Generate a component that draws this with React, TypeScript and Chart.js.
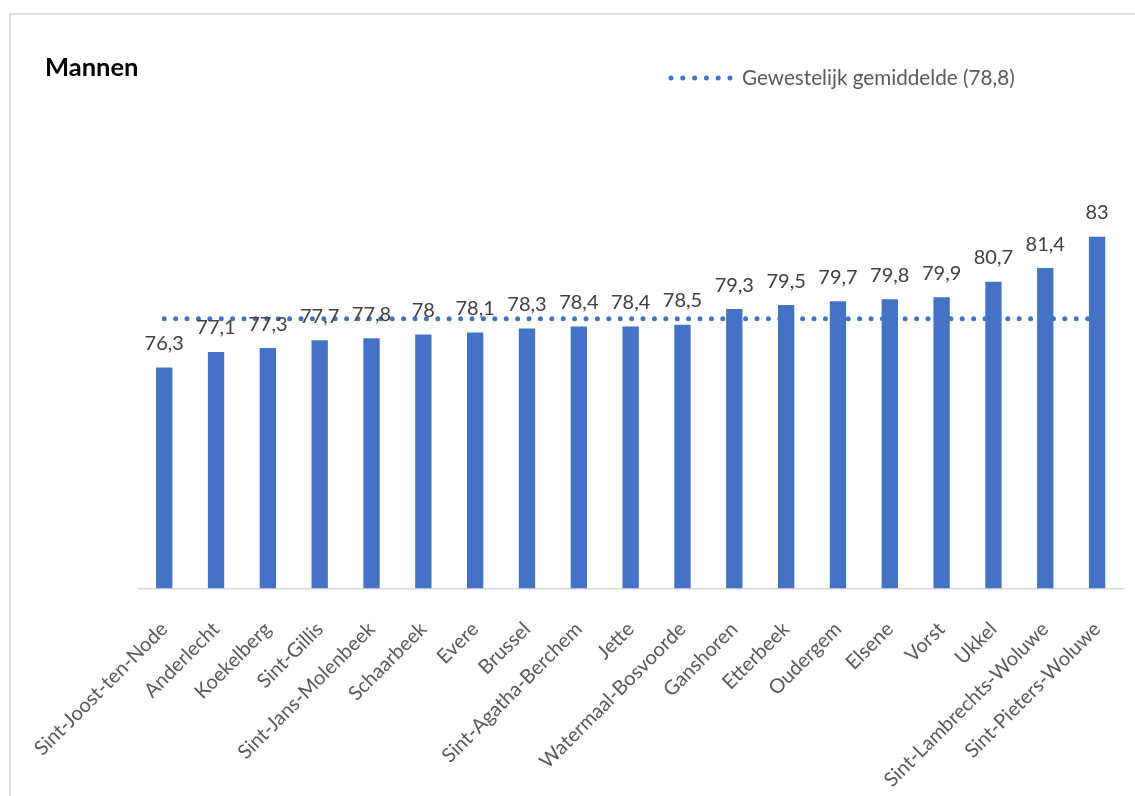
import React, { useEffect, useRef } from 'react';
import { Chart, registerables } from 'chart.js';

Chart.register(...registerables);

// Life expectancy (men) per Brussels municipality
const categories = [
  'Sint-Joost-ten-Node',
  'Anderlecht',
  'Koekelberg',
  'Sint-Gillis',
  'Sint-Jans-Molenbeek',
  'Schaarbeek',
  'Evere',
  'Brussel',
  'Sint-Agatha-Berchem',
  'Jette',
  'Watermaal-Bosvoorde',
  'Ganshoren',
  'Etterbeek',
  'Oudergem',
  'Elsene',
  'Vorst',
  'Ukkel',
  'Sint-Lambrechts-Woluwe',
  'Sint-Pieters-Woluwe',
];
const lifeExpectancy = [
  76.3, 77.1, 77.3, 77.7, 77.8, 78, 78.1, 78.3, 78.4, 78.4, 78.5, 79.3, 79.5, 79.7, 79.8, 79.9,
  80.7, 81.4, 83,
];
const regionalAverage = 78.8;
const averageLabel = 'Gewestelijk gemiddelde (78,8)';
const chartTitle = 'Mannen';

const BLUE = '#4472C4';
const FONT = 'Lato, "Open Sans", sans-serif';

const formatValue = (v: number) => String(v).replace('.', ',');

// Draws the value labels above the bars, the title and the legend entry.
const decorations = {
  id: 'decorations',
  afterDatasetsDraw(chart: any) {
    const ctx: CanvasRenderingContext2D = chart.ctx;
    const meta = chart.getDatasetMeta(1);
    ctx.save();

    ctx.font = `20px ${FONT}`;
    ctx.fillStyle = '#404040';
    ctx.textAlign = 'center';
    ctx.textBaseline = 'alphabetic';
    meta.data.forEach((bar: any, i: number) => {
      ctx.fillText(formatValue(lifeExpectancy[i]), bar.x, bar.y - 17.5);
    });

    ctx.font = `bold 25.5px ${FONT}`;
    ctx.fillStyle = '#000000';
    ctx.textAlign = 'left';
    ctx.fillText(chartTitle, 45, 76);

    ctx.strokeStyle = BLUE;
    ctx.lineWidth = 5;
    ctx.lineCap = 'round';
    ctx.setLineDash([0, 11.8]);
    ctx.beginPath();
    ctx.moveTo(671, 78);
    ctx.lineTo(731, 78);
    ctx.stroke();
    ctx.setLineDash([]);

    ctx.font = `20.7px ${FONT}`;
    ctx.fillStyle = '#595959';
    ctx.fillText(averageLabel, 742, 84.5);

    ctx.restore();
  },
};

export default function App() {
  const canvasRef = useRef<HTMLCanvasElement | null>(null);

  useEffect(() => {
    const canvas = canvasRef.current;
    if (!canvas) return;
    const chart = new Chart(canvas, {
      type: 'bar',
      data: {
        labels: categories,
        datasets: [
          {
            type: 'line',
            label: averageLabel,
            data: categories.map(() => regionalAverage),
            borderColor: BLUE,
            borderWidth: 5,
            borderDash: [0, 11.4],
            borderCapStyle: 'round',
            pointRadius: 0,
            fill: false,
            order: 0,
          } as any,
          {
            type: 'bar',
            label: chartTitle,
            data: lifeExpectancy,
            backgroundColor: BLUE,
            borderWidth: 0,
            categoryPercentage: 1,
            barPercentage: 0.315,
            order: 1,
          },
        ],
      },
      options: {
        responsive: false,
        animation: false,
        layout: { padding: { top: 197.7, left: 138.3, right: 12, bottom: 0 } },
        plugins: {
          legend: { display: false },
          title: { display: false },
          tooltip: { enabled: false },
        },
        scales: {
          y: { display: false, min: 65, max: 85 },
          x: {
            offset: true,
            grid: { display: false, drawTicks: false },
            border: { display: true, color: '#d9d9d9', width: 1.5 },
            ticks: {
              autoSkip: false,
              maxRotation: 45,
              minRotation: 45,
              padding: 29,
              color: '#595959',
              font: { family: FONT, size: 20 },
            },
            afterFit(scale: any) {
              scale.height = 796 - 588.3;
              scale.paddingLeft = 0;
              scale.paddingRight = 0;
            },
          },
        },
      },
      plugins: [decorations],
    });
    return () => chart.destroy();
  }, []);

  return (
    <div
      style={{
        position: 'fixed',
        left: 0,
        top: 0,
        width: 1135,
        height: 796,
        overflow: 'hidden',
        background: '#ffffff',
      }}
    >
      <div
        style={{
          position: 'absolute',
          left: 9,
          top: 13,
          width: 1140,
          height: 800,
          border: '2px solid #dedede',
          boxSizing: 'border-box',
        }}
      />
      <canvas
        ref={canvasRef}
        width={1135}
        height={796}
        style={{ position: 'absolute', left: 0, top: 0, width: 1135, height: 796 }}
      />
    </div>
  );
}
